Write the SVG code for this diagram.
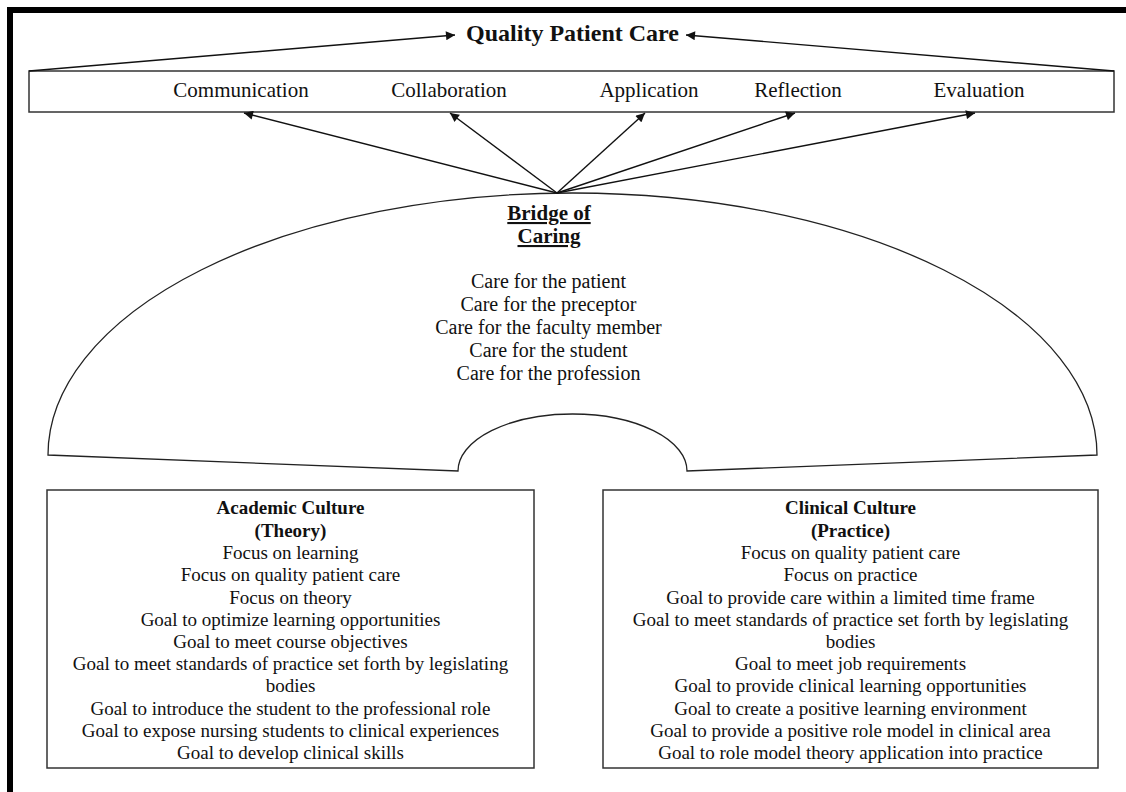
<svg xmlns="http://www.w3.org/2000/svg" width="1126" height="792" viewBox="0 0 1126 792">
<defs>
<style>
text{font-family:"Liberation Serif","Times New Roman",serif;fill:#111;text-anchor:middle}
.title{font-size:24px;font-weight:bold}
.lbl{font-size:21px}
.care{font-size:20px}
.bt{font-size:19px}
.bh{font-size:19px;font-weight:bold}
.bridge{font-size:21px;font-weight:bold;text-decoration:underline}
.box{fill:#fff;stroke:#333;stroke-width:1.5}
.con{stroke:#111;stroke-width:1.4;fill:none}
</style>
<marker id="ah" viewBox="0 0 10 10" refX="10" refY="5" markerWidth="10" markerHeight="9" markerUnits="userSpaceOnUse" orient="auto">
<path d="M0,0 L10,5 L0,10 Z" fill="#111"/>
</marker>
</defs>
<rect width="1126" height="792" fill="#fff"/>
<path d="M10,792 L10,10 L1126,10" fill="none" stroke="#000" stroke-width="6"/>

<g id="quality-patient-care">
<text class="title" x="572.5" y="41">Quality Patient Care</text>
</g>

<g id="competencies">
<rect class="box" x="29" y="71" width="1085" height="41"/>
<text class="lbl" x="241" y="97">Communication</text>
<text class="lbl" x="449" y="97">Collaboration</text>
<text class="lbl" x="649" y="97">Application</text>
<text class="lbl" x="798" y="97">Reflection</text>
<text class="lbl" x="979" y="97">Evaluation</text>
</g>

<g id="bridge-of-caring">
<path d="M48,455 A524.5,262 0 0 1 1097,455 L687,471 A114.5,57 0 0 0 458,471 Z" fill="#fff" stroke="#222" stroke-width="1.3"/>
<text class="bridge" x="549" y="220">Bridge of</text>
<text class="bridge" x="549" y="243">Caring</text>
<text class="care" x="548.5" y="288">Care for the patient</text>
<text class="care" x="548.5" y="311">Care for the preceptor</text>
<text class="care" x="548.5" y="334">Care for the faculty member</text>
<text class="care" x="548.5" y="357">Care for the student</text>
<text class="care" x="548.5" y="380">Care for the profession</text>
</g>

<g id="academic-culture">
<rect class="box" x="47" y="490" width="487" height="278"/>
<text class="bh" x="290.5" y="514">Academic Culture</text>
<text class="bh" x="290.5" y="537">(Theory)</text>
<text class="bt" x="290.5" y="559">Focus on learning</text>
<text class="bt" x="290.5" y="581">Focus on quality patient care</text>
<text class="bt" x="290.5" y="604">Focus on theory</text>
<text class="bt" x="290.5" y="626">Goal to optimize learning opportunities</text>
<text class="bt" x="290.5" y="648">Goal to meet course objectives</text>
<text class="bt" x="290.5" y="670">Goal to meet standards of practice set forth by legislating</text>
<text class="bt" x="290.5" y="692">bodies</text>
<text class="bt" x="290.5" y="715">Goal to introduce the student to the professional role</text>
<text class="bt" x="290.5" y="737">Goal to expose nursing students to clinical experiences</text>
<text class="bt" x="290.5" y="759">Goal to develop clinical skills</text>
</g>

<g id="clinical-culture">
<rect class="box" x="603" y="490" width="495" height="278"/>
<text class="bh" x="850.5" y="514">Clinical Culture</text>
<text class="bh" x="850.5" y="537">(Practice)</text>
<text class="bt" x="850.5" y="559">Focus on quality patient care</text>
<text class="bt" x="850.5" y="581">Focus on practice</text>
<text class="bt" x="850.5" y="604">Goal to provide care within a limited time frame</text>
<text class="bt" x="850.5" y="626">Goal to meet standards of practice set forth by legislating</text>
<text class="bt" x="850.5" y="648">bodies</text>
<text class="bt" x="850.5" y="670">Goal to meet job requirements</text>
<text class="bt" x="850.5" y="692">Goal to provide clinical learning opportunities</text>
<text class="bt" x="850.5" y="715">Goal to create a positive learning environment</text>
<text class="bt" x="850.5" y="737">Goal to provide a positive role model in clinical area</text>
<text class="bt" x="850.5" y="759">Goal to role model theory application into practice</text>
</g>

<g id="connectors">
<line class="con" x1="29" y1="71" x2="455" y2="35" marker-end="url(#ah)"/>
<line class="con" x1="1114" y1="71" x2="686" y2="35" marker-end="url(#ah)"/>
<line class="con" x1="557" y1="193" x2="244" y2="113" marker-end="url(#ah)"/>
<line class="con" x1="557" y1="193" x2="450" y2="113" marker-end="url(#ah)"/>
<line class="con" x1="557" y1="193" x2="645" y2="113" marker-end="url(#ah)"/>
<line class="con" x1="557" y1="193" x2="795" y2="113" marker-end="url(#ah)"/>
<line class="con" x1="557" y1="193" x2="975" y2="113" marker-end="url(#ah)"/>
</g>
</svg>
